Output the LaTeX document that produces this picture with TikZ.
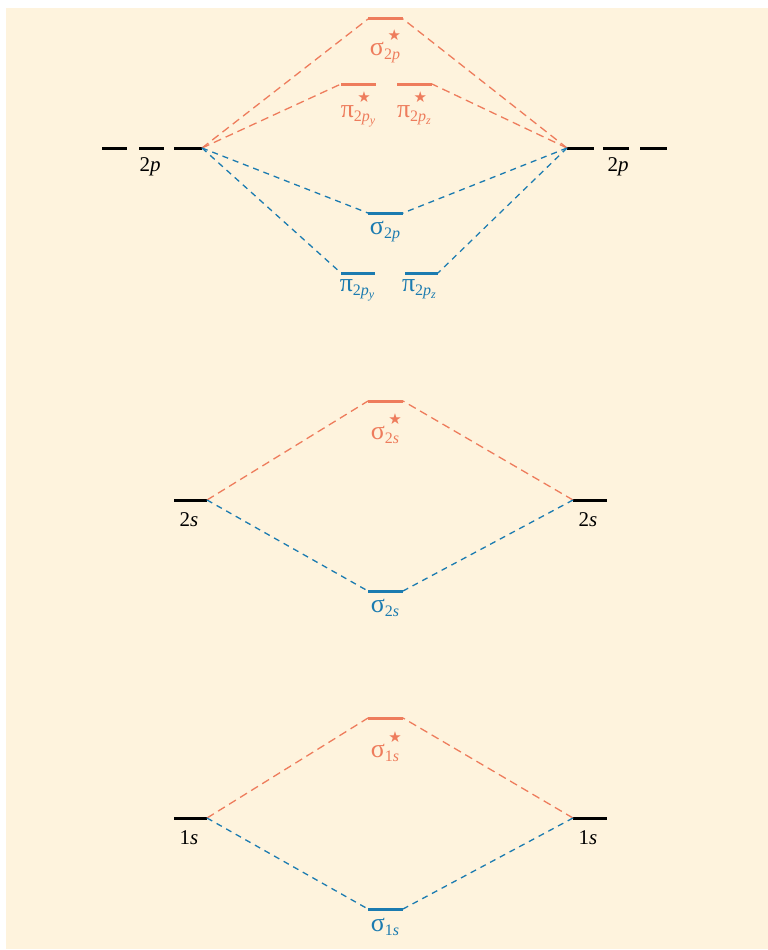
\documentclass[tikz,border=0pt]{standalone}
\usepackage{fontspec}
\setmainfont{Liberation Serif}
\newfontfamily\symf{DejaVu Sans}
\definecolor{cream}{HTML}{FEF3DD}
\definecolor{mored}{HTML}{EE7C5C}
\definecolor{moblue}{HTML}{1B7BB0}
\newcommand\basef{\fontsize{21}{21}\selectfont}
\newcommand\grf{\fontsize{26}{26}\selectfont}
\newcommand\subf{\fontsize{16}{16}\selectfont}
\newcommand\ssubf{\fontsize{12}{12}\selectfont}
\newcommand\starmark{\makebox[0pt][l]{\hspace{3.5pt}\raisebox{15pt}{\symf\fontsize{15}{15}\selectfont ★}}}
\newcommand\sub[1]{\raisebox{-4pt}{\subf #1}}
\newcommand\ssub[1]{\raisebox{-3pt}{\ssubf\itshape #1}}
\newcommand\gsig{{\grf σ}}
\newcommand\gpi{{\grf π}}
\newcommand\pp{2\textit{p}}
\begin{document}
\begin{tikzpicture}[x=1pt,y=-1pt,
  bar/.style={line width=3pt},
  blackbar/.style={bar,black},
  redbar/.style={bar,mored},
  bluebar/.style={bar,moblue},
  redline/.style={mored,line width=1.3pt,dash pattern=on 8pt off 5pt},
  blueline/.style={moblue,line width=1.3pt,dash pattern=on 6pt off 5pt},
  lab/.style={anchor=north,inner sep=0pt,font=\basef},
  ]
\useasboundingbox (0,0) rectangle (768,950);
\fill[cream] (6,8) rectangle (768,949);

% ---- 2p level ----
\coordinate (La1) at (102,148); \coordinate (La2) at (127,148);
\coordinate (Lb1) at (139,148); \coordinate (Lb2) at (164,148);
\coordinate (Lc1) at (174,148); \coordinate (Lc2) at (202,148);
\coordinate (Ra1) at (567,148); \coordinate (Ra2) at (594,148);
\coordinate (Rb1) at (603,148); \coordinate (Rb2) at (629,148);
\coordinate (Rc1) at (640,148); \coordinate (Rc2) at (667,148);
\draw[blackbar] (La1) -- (La2); \draw[blackbar] (Lb1) -- (Lb2); \draw[blackbar] (Lc1) -- (Lc2);
\draw[blackbar] (Ra1) -- (Ra2); \draw[blackbar] (Rb1) -- (Rb2); \draw[blackbar] (Rc1) -- (Rc2);
\node[lab] (l2p) at (150,157) {\pp};
\node[lab] (r2p) at (618,157) {\pp};

\coordinate (sp1) at (368,19); \coordinate (sp2) at (403,19);
\coordinate (py1) at (341,84); \coordinate (py2) at (376,84);
\coordinate (pz1) at (397,84); \coordinate (pz2) at (432,84);
\coordinate (bs1) at (368,213); \coordinate (bs2) at (403,213);
\coordinate (by1) at (341,273); \coordinate (by2) at (375,273);
\coordinate (bz1) at (405,273); \coordinate (bz2) at (438,273);
\draw[redbar] (sp1) -- (sp2);
\draw[redbar] (py1) -- (py2);
\draw[redbar] (pz1) -- (pz2);
\draw[bluebar] (bs1) -- (bs2);
\draw[bluebar] (by1) -- (by2);
\draw[bluebar] (bz1) -- (bz2);
\node[lab,text=mored] (lsp) at (385,29) {\gsig\starmark\sub{\pp}};
\node[lab,text=mored] (lpy) at (358,91) {\gpi\starmark\sub{\pp\ssub{y}}};
\node[lab,text=mored] (lpz) at (414,91) {\gpi\starmark\sub{\pp\ssub{z}}};
\node[lab,text=moblue] (lbs) at (385,221) {\gsig\sub{\pp}};
\node[lab,text=moblue] (lby) at (357,279) {\gpi\sub{\pp\ssub{y}}};
\node[lab,text=moblue] (lbz) at (419,279) {\gpi\sub{\pp\ssub{z}}};

\draw[redline] (Lc2) -- (sp1);
\draw[redline] (Lc2) -- (py1);
\draw[blueline] (Lc2) -- (bs1);
\draw[blueline] (Lc2) -- (by1);
\draw[redline] (Ra1) -- (sp2);
\draw[redline] (Ra1) -- (pz2);
\draw[blueline] (Ra1) -- (bs2);
\draw[blueline] (Ra1) -- (bz2);

% ---- 2s level ----
\coordinate (s2L1) at (174,500); \coordinate (s2L2) at (207,500);
\coordinate (s2R1) at (573,500); \coordinate (s2R2) at (607,500);
\coordinate (s2a1) at (368,401); \coordinate (s2a2) at (403,401);
\coordinate (s2b1) at (368,591); \coordinate (s2b2) at (403,591);
\draw[blackbar] (s2L1) -- (s2L2);
\draw[blackbar] (s2R1) -- (s2R2);
\draw[redbar] (s2a1) -- (s2a2);
\draw[bluebar] (s2b1) -- (s2b2);
\node[lab] (l2s) at (189,512) {2\textit{s}};
\node[lab] (r2s) at (588,512) {2\textit{s}};
\node[lab,text=mored] (ls2a) at (385,413) {\gsig\starmark\sub{2\textit{s}}};
\node[lab,text=moblue] (ls2b) at (385,599) {\gsig\sub{2\textit{s}}};
\draw[redline] (s2L2) -- (s2a1);
\draw[redline] (s2R1) -- (s2a2);
\draw[blueline] (s2L2) -- (s2b1);
\draw[blueline] (s2R1) -- (s2b2);

% ---- 1s level ----
\coordinate (s1L1) at (174,818); \coordinate (s1L2) at (207,818);
\coordinate (s1R1) at (573,818); \coordinate (s1R2) at (607,818);
\coordinate (s1a1) at (368,718); \coordinate (s1a2) at (403,718);
\coordinate (s1b1) at (368,909); \coordinate (s1b2) at (403,909);
\draw[blackbar] (s1L1) -- (s1L2);
\draw[blackbar] (s1R1) -- (s1R2);
\draw[redbar] (s1a1) -- (s1a2);
\draw[bluebar] (s1b1) -- (s1b2);
\node[lab] (l1s) at (189,830) {1\textit{s}};
\node[lab] (r1s) at (588,830) {1\textit{s}};
\node[lab,text=mored] (ls1a) at (385,731) {\gsig\starmark\sub{1\textit{s}}};
\node[lab,text=moblue] (ls1b) at (385,918) {\gsig\sub{1\textit{s}}};
\draw[redline] (s1L2) -- (s1a1);
\draw[redline] (s1R1) -- (s1a2);
\draw[blueline] (s1L2) -- (s1b1);
\draw[blueline] (s1R1) -- (s1b2);
\end{tikzpicture}
\end{document}
